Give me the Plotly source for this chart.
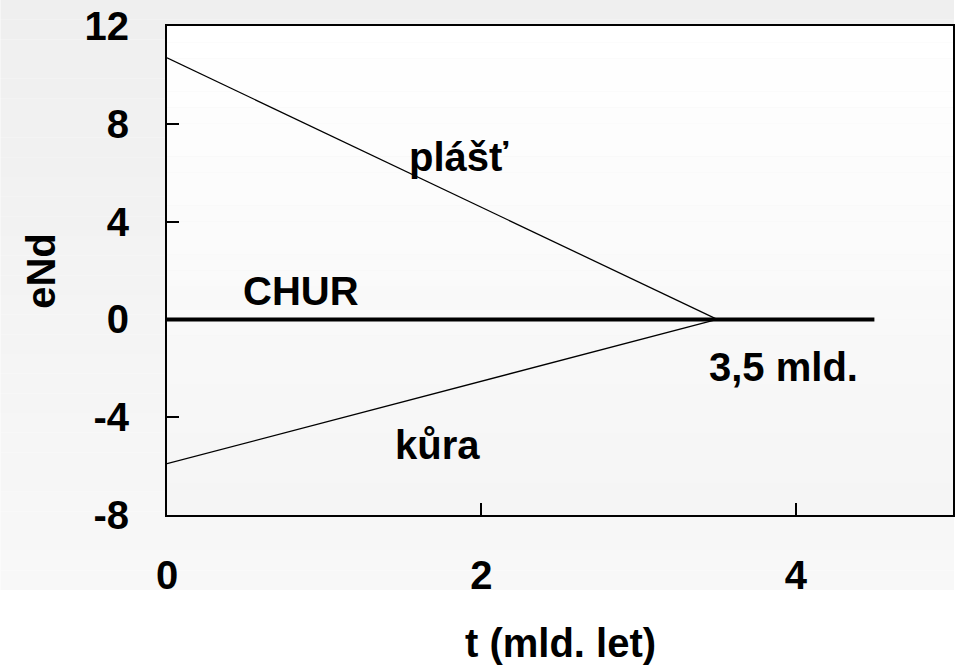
import plotly.graph_objects as go

# Nd isotope evolution: depleted mantle, CHUR reference and crust
t_mantle = [0, 3.5]
e_mantle = [10.7, 0]
t_crust = [0, 3.5]
e_crust = [-5.9, 0]
t_chur = [0, 4.5]
e_chur = [0, 0]

x_ticks = [0, 2, 4]
x_ticktext = ["0", "2", "4"]
y_ticks = [-8, -4, 0, 4, 8, 12]
y_ticktext = ["-8", "-4", "0", "4", "8", "12"]

labels = ["plášť", "CHUR", "3,5 mld.", "kůra"]
label_x = [1.86, 0.85, 3.92, 1.72]
label_y = [6.65, 1.15, -1.95, -5.15]

FONT = "Liberation Sans, Arial, sans-serif"
W, H = 956, 669
ML, MR, MT, MB = 167, 1, 26, 154
PW, PH = W - ML - MR, H - MT - MB


def px_to_paper_x(px):
    return (px - ML) / PW


def px_to_paper_y(py):
    return (H - MB - py) / PH


def blend(c0, c1, f):
    return "rgb(%d,%d,%d)" % tuple(round(a + (b - a) * f) for a, b in zip(c0, c1))


shapes = []
# soft vertical gradient behind the whole figure
n = 30
top_c, bot_c = (239, 239, 239), (248, 248, 248)
for i in range(n):
    y0 = 590 * i / n
    y1 = 590 * (i + 1) / n
    shapes.append(dict(type="rect", xref="paper", yref="paper", layer="below",
                       x0=px_to_paper_x(0), x1=px_to_paper_x(W),
                       y0=px_to_paper_y(y1), y1=px_to_paper_y(y0),
                       line=dict(width=0), fillcolor=blend(top_c, bot_c, i / (n - 1))))
# gradient inside the plotting area
p_top, p_bot = (255, 255, 255), (245, 245, 245)
for i in range(n):
    y0 = MT + PH * i / n
    y1 = MT + PH * (i + 1) / n
    shapes.append(dict(type="rect", xref="paper", yref="paper", layer="below",
                       x0=0, x1=1, y0=px_to_paper_y(y1), y1=px_to_paper_y(y0),
                       line=dict(width=0), fillcolor=blend(p_top, p_bot, i / (n - 1))))

fig = go.Figure()
fig.add_trace(go.Scatter(x=t_mantle, y=e_mantle, mode="lines",
                         line=dict(color="black", width=1.3), showlegend=False))
fig.add_trace(go.Scatter(x=t_crust, y=e_crust, mode="lines",
                         line=dict(color="black", width=1.3), showlegend=False))
fig.add_trace(go.Scatter(x=t_chur, y=e_chur, mode="lines",
                         line=dict(color="black", width=4), showlegend=False))

annotations = []
for txt, x, y in zip(labels, label_x, label_y):
    annotations.append(dict(x=x, y=y, xref="x", yref="y", text=txt, showarrow=False,
                            font=dict(family=FONT, size=40, color="black", weight="bold"),
                            xanchor="center", yanchor="middle"))
# axis titles
annotations.append(dict(x=0.5, y=px_to_paper_y(643), xref="paper", yref="paper",
                        text="t (mld. let)", showarrow=False,
                        font=dict(family=FONT, size=40, color="black", weight="bold"),
                        xanchor="center", yanchor="middle"))
annotations.append(dict(x=px_to_paper_x(40), y=0.5, xref="paper", yref="paper",
                        text="eNd", showarrow=False, textangle=-90,
                        font=dict(family=FONT, size=40, color="black", weight="bold"),
                        xanchor="center", yanchor="middle"))

axis_common = dict(showgrid=False, zeroline=False, showline=True, linecolor="black",
                   linewidth=2, mirror=True, ticks="inside", ticklen=12, tickwidth=1.5,
                   tickcolor="black",
                   tickfont=dict(family=FONT, size=40, color="black", weight="bold"))

fig.update_layout(
    width=W, height=H,
    margin=dict(l=ML, r=MR, t=MT, b=MB, pad=0),
    paper_bgcolor="white",
    plot_bgcolor="rgba(0,0,0,0)",
    shapes=shapes,
    annotations=annotations,
    xaxis=dict(range=[0, 5], tickvals=x_ticks, ticktext=x_ticktext,
               ticklabelstandoff=24, **axis_common),
    yaxis=dict(range=[-8, 12], tickvals=y_ticks, ticktext=y_ticktext,
               ticklabelstandoff=28, **axis_common),
)

fig.write_html("out.html")
